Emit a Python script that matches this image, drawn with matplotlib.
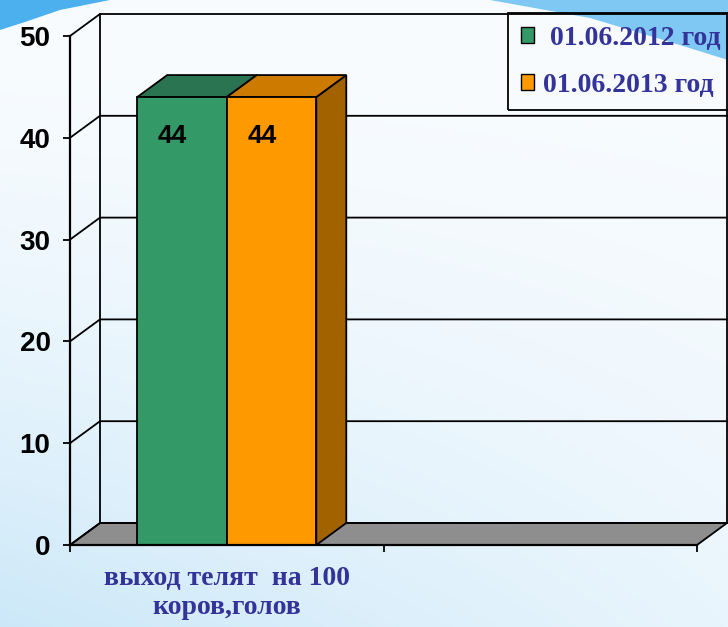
import numpy as np
import matplotlib.pyplot as plt
from matplotlib.patches import Polygon, Rectangle

categories = ["выход телят  на 100\nкоров,голов", ""]
series_names = [" 01.06.2012 год", "01.06.2013 год"]
values_2012 = [44]
values_2013 = [44]
yticks = [0, 10, 20, 30, 40, 50]

front_colors = ["#339966", "#FF9900"]
top_colors = ["#2A7452", "#CC7A00"]
side_colors = ["#215C41", "#A36200"]
text_blue = "#333399"

W, H = 728, 627
fig = plt.figure(figsize=(W / 100, H / 100), dpi=100)

# background: pale gradient + blue swooshes in the top corners
bg = fig.add_axes([0, 0, 1, 1], zorder=-5)
yy, xx = np.mgrid[0:1:300j, 0:1:300j]
t = np.clip(yy ** 1.6 * (1 - 0.65 * xx), 0, 1)
white = np.array([0.975, 0.988, 0.998])
light = np.array([0.80, 0.91, 0.975])
img = white * (1 - t[..., None]) + light * t[..., None]
bg.imshow(img, extent=[0, W, H, 0], aspect="auto")
bg.add_patch(Polygon([(0, 0), (0, 30), (25, 22), (60, 10), (110, 0)],
                     closed=True, color="#4DB0EE", lw=0))
bg.add_patch(Polygon([(490, 0), (728, 0), (728, 60), (670, 42), (590, 18)],
                     closed=True, color="#7EC8F3", lw=0))
bg.set_xlim(0, W)
bg.set_ylim(H, 0)
bg.axis("off")

# main chart; front plane maps x 0..2 and y 0..50
ax = fig.add_axes([70 / W, 1 - 545 / H, (697 - 70) / W, (545 - 36) / H])
ax.set_xlim(0, 2)
ax.set_ylim(0, 50)
ax.patch.set_alpha(0)

dx = 30 / ((697 - 70) / 2)
dy = 22 / ((545 - 36) / 50)
xmax = len(categories)

# floor
ax.add_patch(Polygon([(0, 0), (xmax, 0), (xmax + dx, dy), (dx, dy)], closed=True,
                     facecolor="#8E8E8E", edgecolor="black", lw=1.3, clip_on=False, zorder=1))
# walls and gridlines
ax.plot([dx, dx], [dy, 50 + dy], color="black", lw=1.3, clip_on=False, zorder=1)
ax.plot([xmax + dx, xmax + dx], [dy, 50 + dy], color="black", lw=1.3, clip_on=False, zorder=1)
for y in yticks:
    ax.plot([0, dx, xmax + dx], [y, y + dy, y + dy], color="black", lw=1.3,
            clip_on=False, zorder=1)

# bars
w = 0.2856
for i, vals in enumerate([values_2012, values_2013]):
    for c, v in enumerate(vals):
        x0 = c + 0.5 - w + i * w
        ax.add_patch(Polygon([(x0 + w, 0), (x0 + w + dx, dy), (x0 + w + dx, v + dy), (x0 + w, v)],
                             closed=True, facecolor=side_colors[i], edgecolor="black",
                             lw=1.3, clip_on=False, zorder=3 + i))
        ax.add_patch(Polygon([(x0, v), (x0 + w, v), (x0 + w + dx, v + dy), (x0 + dx, v + dy)],
                             closed=True, facecolor=top_colors[i], edgecolor="black",
                             lw=1.3, clip_on=False, zorder=3 + i))
        ax.add_patch(Rectangle((x0, 0), w, v, facecolor=front_colors[i], edgecolor="black",
                               lw=1.3, clip_on=False, zorder=3 + i))
        ax.text(x0 + w / 2 - 0.03, v - 3.8, f"{v:g}", ha="center", va="center",
                fontsize=19, fontweight="bold", family="Liberation Sans", color="black",
                zorder=10)

# axes styling
for s in ["top", "right"]:
    ax.spines[s].set_visible(False)
ax.spines["left"].set_linewidth(1.6)
ax.spines["bottom"].set_linewidth(1.6)
ax.spines["left"].set_zorder(6)
ax.spines["bottom"].set_zorder(6)
ax.set_yticks(yticks)
ax.set_yticklabels([str(v) for v in yticks], fontsize=20, fontweight="bold",
                   family="Liberation Sans")
ax.tick_params(axis="y", direction="out", length=5, width=1.3, pad=9)
ax.set_xticks(range(xmax + 1))
ax.set_xticklabels([""] * (xmax + 1))
ax.tick_params(axis="x", which="major", direction="out", length=5, width=1.3)
ax.set_xticks([c + 0.5 for c in range(xmax)], minor=True)
ax.set_xticklabels(categories, minor=True, fontsize=20, fontweight="bold",
                   family="Liberation Serif", color=text_blue, linespacing=1.2)
ax.tick_params(axis="x", which="minor", length=0, pad=15)

# legend
handles = [Rectangle((0, 0), 1, 1, facecolor=col, edgecolor="black", lw=1) for col in front_colors]
leg = fig.legend(handles, series_names, loc="upper left", bbox_to_anchor=(508 / W, 1 - 13 / H),
                 borderaxespad=0, fancybox=False,
                 prop={"family": "Liberation Serif", "weight": "bold", "size": 20},
                 handlelength=0.5, handleheight=0.5, handletextpad=0.3,
                 labelspacing=0.8, borderpad=0.45)
frame = leg.get_frame()
frame.set_facecolor((1, 1, 1, 0))
frame.set_edgecolor("black")
frame.set_alpha(None)
frame.set_linewidth(1.3)
for txt in leg.get_texts():
    txt.set_color(text_blue)

fig.savefig("out.png", dpi=100)
